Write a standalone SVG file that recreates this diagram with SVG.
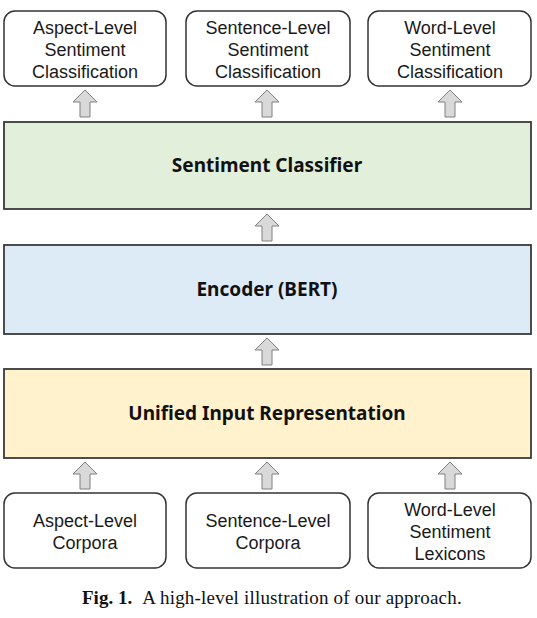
<svg xmlns="http://www.w3.org/2000/svg" width="537" height="618" viewBox="0 0 537 618">
<defs>
<style>
.rb{fill:#fff;stroke:#333;stroke-width:1.5}
.bar{stroke:#3a3a3a;stroke-width:1.8}
.t{font-family:"Liberation Sans",Arial,sans-serif;font-size:18px;fill:#1a1a1a;text-anchor:middle}
.b{font-family:"Noto Sans","Open Sans",sans-serif;font-weight:bold;font-size:19px;fill:#111;text-anchor:middle}
.ar{fill:#d9d9d9;stroke:#808080;stroke-width:1}
.cap{font-family:"Liberation Serif","Times New Roman",serif;font-size:19px;fill:#111}
</style>
<path id="arr" d="M0,0 L12,12 L5,12 L5,27 L-5,27 L-5,12 L-12,12 Z"/>
</defs>
<rect width="537" height="618" fill="#fff"/>
<g id="out-aspect"><rect class="rb" x="4" y="11" width="162" height="75" rx="11"/><text class="t" x="85" y="34">Aspect-Level</text><text class="t" x="85" y="56">Sentiment</text><text class="t" x="85" y="78">Classification</text></g>
<g id="out-sentence"><rect class="rb" x="186" y="11" width="164" height="75" rx="11"/><text class="t" x="268" y="34">Sentence-Level</text><text class="t" x="268" y="56">Sentiment</text><text class="t" x="268" y="78">Classification</text></g>
<g id="out-word"><rect class="rb" x="368" y="11" width="163" height="75" rx="11"/><text class="t" x="450" y="34">Word-Level</text><text class="t" x="450" y="56">Sentiment</text><text class="t" x="450" y="78">Classification</text></g>
<g id="classifier"><rect class="bar" x="4" y="122" width="527" height="87" fill="#e2efda"/><text class="b" x="267" y="172">Sentiment Classifier</text></g>
<g id="encoder"><rect class="bar" x="4" y="245" width="527" height="89" fill="#ddebf7"/><text class="b" x="267" y="296">Encoder (BERT)</text></g>
<g id="unified"><rect class="bar" x="4" y="369" width="527" height="89" fill="#fff2cc"/><text class="b" x="267" y="420">Unified Input Representation</text></g>
<g id="in-aspect"><rect class="rb" x="4" y="493" width="162" height="75" rx="11"/><text class="t" x="85" y="527">Aspect-Level</text><text class="t" x="85" y="549">Corpora</text></g>
<g id="in-sentence"><rect class="rb" x="186" y="493" width="164" height="75" rx="11"/><text class="t" x="268" y="527">Sentence-Level</text><text class="t" x="268" y="549">Corpora</text></g>
<g id="in-word"><rect class="rb" x="368" y="493" width="163" height="75" rx="11"/><text class="t" x="450" y="516">Word-Level</text><text class="t" x="450" y="538">Sentiment</text><text class="t" x="450" y="560">Lexicons</text></g>
<g id="connectors">
<use href="#arr" class="ar" x="85" y="90"/>
<use href="#arr" class="ar" x="267" y="90"/>
<use href="#arr" class="ar" x="450" y="90"/>
<use href="#arr" class="ar" x="267" y="214"/>
<use href="#arr" class="ar" x="267" y="338"/>
<use href="#arr" class="ar" x="85" y="462"/>
<use href="#arr" class="ar" x="267" y="462"/>
<use href="#arr" class="ar" x="450" y="462"/>
</g>
<text class="cap" x="82" y="604"><tspan font-weight="bold">Fig. 1.</tspan><tspan dx="10" letter-spacing="0.2">A high-level illustration of our approach.</tspan></text>
</svg>
